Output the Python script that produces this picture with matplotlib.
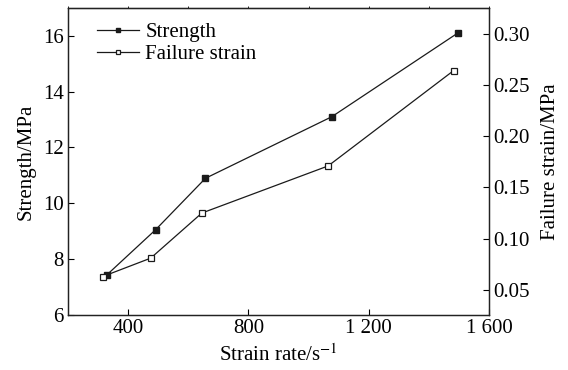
import numpy as np
import matplotlib
matplotlib.use("Agg")
import matplotlib.pyplot as plt
from matplotlib.ticker import MultipleLocator

plt.rcParams['font.family'] = ['Liberation Serif', 'DejaVu Serif']
plt.rcParams['mathtext.fontset'] = 'stix'
plt.rcParams['font.size'] = 15

# values
strength_rate = [330, 491, 657, 1077, 1498]
strength = [7.43, 9.04, 10.89, 13.10, 16.12]
strain_rate = [315, 475, 645, 1065, 1482]
failure_strain = [0.063, 0.081, 0.125, 0.171, 0.264]

x_ticks = [400, 800, 1200, 1600]
x_labels = ['400', '800', '1 200', '1 600']
left_ticks = [6, 8, 10, 12, 14, 16]
right_ticks = [0.05, 0.10, 0.15, 0.20, 0.25, 0.30]

fig = plt.figure(figsize=(5.68, 3.70), dpi=100)
ax = fig.add_axes([0.1197, 0.15, 0.7413, 0.828])
ax2 = ax.twinx()

l1, = ax.plot(strength_rate, strength, '-s', color='#1a1a1a', lw=0.9,
              markersize=4.8, markerfacecolor='#1a1a1a', label='Strength')
l2, = ax2.plot(strain_rate, failure_strain, '-s', color='#1a1a1a', lw=0.9,
               markersize=4.8, markerfacecolor='white', markeredgewidth=0.9,
               label='Failure strain')

ax.set_xlim(200, 1600)
ax.set_ylim(6, 17)
ax2.set_ylim(0.026, 0.325)

ax.set_xticks(x_ticks)
ax.set_xticklabels(x_labels)
ax.set_yticks(left_ticks)
ax2.set_yticks(right_ticks)
ax2.set_yticklabels([f'{v:.2f}' for v in right_ticks])

ax.tick_params(axis='x', direction='in', length=4, width=0.8, pad=3)
ax.tick_params(axis='y', direction='in', length=4, width=0.8, pad=3)
ax2.tick_params(axis='y', direction='in', length=4, width=0.8, pad=3)

# tiny marks on the top spine every 200
top = ax.secondary_xaxis('top')
top.xaxis.set_major_locator(MultipleLocator(200))
top.tick_params(direction='out', length=1.5, width=0.6, labeltop=False)

for a in (ax, ax2):
    for s in a.spines.values():
        s.set_linewidth(0.9)
        s.set_color('#222222')

ax.set_xlabel('Strain rate/s$^{-1}$', labelpad=5)
ax.set_ylabel('Strength/MPa', labelpad=5)
ax2.set_ylabel('Failure strain/MPa', labelpad=8)

ax.legend([l1, l2], ['Strength', 'Failure strain'], loc='upper left',
          frameon=False, handlelength=2.0, handletextpad=0.3, markerscale=0.75,
          borderaxespad=0.3, labelspacing=0.1, bbox_to_anchor=(0.035, 1.0))

fig.savefig('out.png', dpi=100)
